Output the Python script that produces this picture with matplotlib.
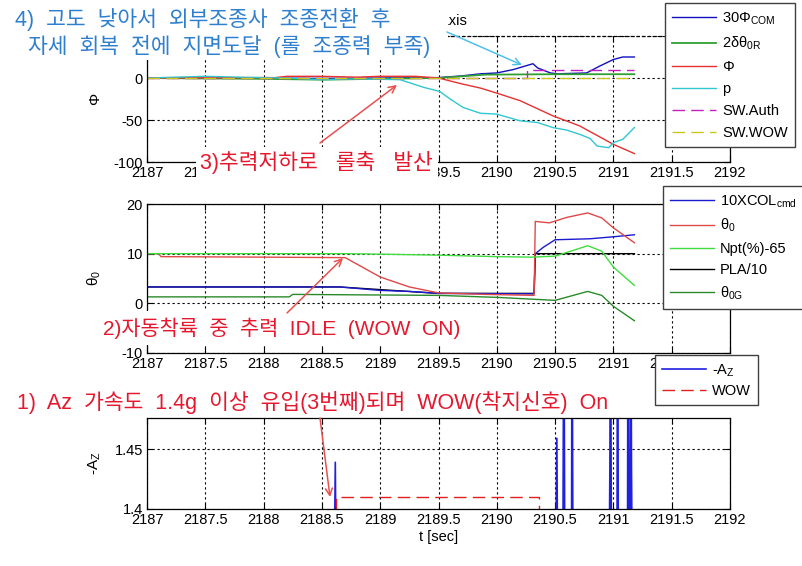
import matplotlib
matplotlib.use('Agg')
import matplotlib.pyplot as plt
from matplotlib.patches import Rectangle, FancyArrowPatch
from matplotlib.ticker import FormatStrFormatter, MultipleLocator

plt.rcParams['font.family'] = ['Liberation Sans', 'Noto Sans CJK KR']
plt.rcParams['mathtext.fontset'] = 'custom'
plt.rcParams['mathtext.rm'] = 'Liberation Sans'
plt.rcParams['mathtext.it'] = 'Liberation Sans'
plt.rcParams['mathtext.bf'] = 'Liberation Sans:bold'
plt.rcParams['axes.unicode_minus'] = False

# ---- 1. 롤축 (top panel) ----
t_phicom = [2187.0, 2187.5, 2188.0, 2188.5, 2189.0, 2189.5, 2189.7, 2189.86, 2190.0, 2190.14,
            2190.31, 2190.35, 2190.46, 2190.52, 2190.77, 2190.88, 2191.0, 2191.08, 2191.18]
phicom = [0, -0.5, 0, -0.5, 0, 0.5, 2.5, 5, 6, 10, 17, 12, 6, 5, 6, 14, 22, 25, 25]

t_dth0r = [2187.0, 2188.0, 2188.5, 2189.0, 2189.5, 2189.9, 2190.5, 2191.18]
dth0r = [0, -1, -2, -1, 0, 4, 4.5, 4.5]

t_phi = [2187.0, 2188.1, 2188.2, 2188.5, 2188.8, 2189.0, 2189.3, 2189.5, 2189.7, 2189.86,
         2190.0, 2190.2, 2190.48, 2190.71, 2191.0, 2191.18]
phi = [0, 0.5, 2, 2, 1, 2, 2, 0, -7, -12, -18, -27, -45, -57, -79, -90]

t_p = [2187.0, 2187.5, 2187.8, 2188.2, 2188.5, 2188.8, 2189.17, 2189.37, 2189.51, 2189.6,
       2189.71, 2189.86, 2190.0, 2190.2, 2190.35, 2190.48, 2190.6, 2190.71, 2190.8, 2190.86,
       2190.96, 2191.0, 2191.08, 2191.18]
p = [0, 2, 1, 0, -2, -1, -2, -11, -16, -25, -35, -42, -43, -51, -53, -59, -62, -67, -72, -81,
     -83, -77, -73, -59]

t_auth = [2187.0, 2190.26, 2190.26, 2191.18]
sw_auth = [0, 0, 10, 10]

t_wow_sw = [2187.0, 2191.18]
sw_wow = [0, 0]

# ---- 2. 콜렉티브 (middle panel) ----
t_xcol = [2187.0, 2188.65, 2189.0, 2189.25, 2189.5, 2190.32, 2190.33, 2190.4, 2190.5, 2190.8,
          2191.0, 2191.18]
xcol = [3.3, 3.3, 2.6, 2.4, 2.0, 1.9, 10.0, 11.3, 12.8, 13.0, 13.4, 13.8]

t_th0 = [2187.0, 2187.1, 2187.12, 2188.0, 2188.7, 2189.0, 2189.25, 2189.5, 2189.9, 2190.32,
         2190.33, 2190.45, 2190.6, 2190.78, 2190.9, 2191.0, 2191.18]
th0 = [10, 10, 9.4, 9.3, 9.2, 5.3, 3.3, 2.1, 1.8, 1.6, 16.5, 16.2, 17.3, 18.2, 17.2, 15.2, 12.2]

t_npt = [2187.0, 2188.7, 2189.0, 2189.5, 2190.0, 2190.3, 2190.5, 2190.78, 2190.9, 2191.0, 2191.18]
npt = [10, 10, 9.9, 9.7, 9.4, 9.3, 9.5, 11.6, 10.5, 7.3, 3.6]

t_pla = [2187.0, 2188.65, 2189.5, 2190.32, 2190.33, 2191.18]
pla = [3.3, 3.3, 2.0, 2.0, 10, 10]

t_th0g = [2187.0, 2188.22, 2188.25, 2189.5, 2190.0, 2190.5, 2190.78, 2190.9, 2191.0, 2191.18]
th0g = [1.3, 1.3, 1.8, 1.6, 1.2, 0.6, 2.4, 1.6, -0.6, -3.5]

# ---- 3. 수직가속도 (bottom panel) ----
az_t = [2187.0, 2188.60, 2188.615, 2188.625, 2188.63, 2190.50, 2190.515, 2190.525, 2190.53,
        2190.565, 2190.575, 2190.585, 2190.64, 2190.645, 2190.655, 2190.96, 2190.97, 2190.975,
        2190.985, 2191.03, 2191.035, 2191.045, 2191.12, 2191.125, 2191.135, 2191.14, 2191.15,
        2191.155, 2191.165, 2191.18]
az_v = [1.3, 1.3, 1.439, 1.3, 1.3, 1.3, 1.459, 1.3, 1.3,
        1.3, 1.6, 1.3, 1.3, 1.6, 1.3, 1.3, 1.437, 1.6,
        1.3, 1.3, 1.6, 1.3, 1.3, 1.6, 1.3, 1.3, 1.6,
        1.437, 1.3, 1.3]

t_wow = [2187.0, 2188.62, 2188.62, 2190.36, 2190.36, 2191.18]
wow = [1.3, 1.3, 1.41, 1.41, 1.3, 1.3]

W, H = 803, 566
fig = plt.figure(figsize=(W / 100, H / 100), dpi=100)


def fr(x, y):
    # 픽셀 좌표 -> figure 비율
    return x / W, 1 - y / H


def make_ax(top, bottom):
    ax = fig.add_axes([147 / W, 1 - bottom / H, (730 - 147) / W, (bottom - top) / H])
    ax.set_xlim(2187, 2192)
    ax.xaxis.set_major_locator(MultipleLocator(0.5))
    ax.xaxis.set_major_formatter(FormatStrFormatter('%g'))
    ax.grid(True, color='black', linestyle=(0, (2, 2.5)), linewidth=0.8)
    ax.tick_params(direction='in', length=4, top=True, right=True, labelsize=10.5, pad=3)
    for s in ax.spines.values():
        s.set_linewidth(0.9)
    ax.yaxis.set_label_coords(-0.075, 0.5)
    return ax


leg_kw = dict(fontsize=10.5, fancybox=False, edgecolor='#404040', framealpha=1,
              handlelength=3.0, borderaxespad=0, handletextpad=0.4, borderpad=0.5)

# top
ax1 = make_ax(36, 162)
h = []
h += ax1.plot(t_phicom, phicom, color='#1010c0', lw=1, label=r'30$\Phi_{COM}$')
h += ax1.plot(t_dth0r, dth0r, color='#30a030', lw=1.3, label=r'2$\delta\theta_{0R}$')
h += ax1.plot(t_phi, phi, color='#e83030', lw=1, label=r'$\Phi$')
h += ax1.plot(t_p, p, color='#30c8d0', lw=1, label='p')
h += ax1.plot(t_auth, sw_auth, color='#c020c0', lw=1, dashes=(9, 4.5), label='SW.Auth')
h += ax1.plot(t_wow_sw, sw_wow, color='#c8c820', lw=1, dashes=(9, 4.5), label='SW.WOW')
ax1.set_ylim(-100, 50)
ax1.set_yticks([-100, -50, 0, 50])
ax1.set_yticklabels(['-100', '-50', '0', ''])
ax1.set_ylabel(r'$\Phi$', fontsize=11)
ax1.spines['top'].set_linestyle((0, (2, 2.5)))
ax1.set_title('Roll axis', fontsize=10.5, pad=8)
fig.legend(handles=h, loc='upper left', bbox_to_anchor=fr(665, 3), labelspacing=0.55, **leg_kw)

# middle
ax2 = make_ax(204, 353)
h = []
h += ax2.plot(t_pla, pla, color='black', lw=1, label='PLA/10')
h += ax2.plot(t_xcol, xcol, color='#1a1ad0', lw=1, label=r'10XCOL$_{cmd}$')
h += ax2.plot(t_th0, th0, color='#e04848', lw=1, label=r'$\theta_0$')
h += ax2.plot(t_npt, npt, color='#40dd40', lw=1, label='Npt(%)-65')
h += ax2.plot(t_th0g, th0g, color='#2a8a2a', lw=1, label=r'$\theta_{0G}$')
ax2.set_ylim(-10, 20)
ax2.set_yticks([-10, 0, 10, 20])
ax2.set_ylabel(r'$\theta_0$', fontsize=11)
order = [1, 2, 3, 0, 4]
fig.legend(handles=[h[i] for i in order], loc='upper left', bbox_to_anchor=fr(663, 186),
           labelspacing=0.5, **leg_kw)

# bottom
ax3 = make_ax(418, 509)
h = []
h += ax3.plot(az_t, az_v, color='#2020e0', lw=1.2, label=r'-A$_Z$')
h += ax3.plot(t_wow, wow, color='#e02020', lw=1, dashes=(9, 4.5), label='WOW')
ax3.set_ylim(1.4, 1.476)
ax3.set_yticks([1.4, 1.45])
ax3.yaxis.set_major_formatter(FormatStrFormatter('%g'))
ax3.set_ylabel(r'-A$_Z$', fontsize=11)
ax3.set_xlabel('t [sec]', fontsize=10.5, labelpad=2)
fig.legend(handles=h, loc='upper left', bbox_to_anchor=fr(655, 355), labelspacing=0.35, **leg_kw)

# 주석 (흰 배경 텍스트 상자)
red = '#e5182e'
blue = '#2f7fcf'
fig.add_artist(Rectangle(fr(8, 60), 440 / W, 56 / H, transform=fig.transFigure,
                         facecolor='white', edgecolor='none', zorder=5))
fig.add_artist(Rectangle(fr(196, 179), 242 / W, 32 / H, transform=fig.transFigure,
                         facecolor='white', edgecolor='none', zorder=5))
fig.add_artist(Rectangle(fr(100, 345), 364 / W, 34 / H, transform=fig.transFigure,
                         facecolor='white', edgecolor='none', zorder=5))

tk = dict(va='center', ha='left', zorder=6)
fig.text(*fr(15, 19), '4)  고도  낮아서  외부조종사  조종전환  후', color=blue, fontsize=15.5, **tk)
fig.text(*fr(28, 46), '자세  회복  전에  지면도달  (롤  조종력  부족)', color=blue, fontsize=15.5, **tk)
fig.text(*fr(200, 162), '3)추력저하로   롤축   발산', color=red, fontsize=15.5, **tk)
fig.text(*fr(103, 328), '2)자동착륙  중  추력  IDLE  (WOW  ON)', color=red, fontsize=15, **tk)
fig.text(*fr(17, 402), '1)  Az  가속도  1.4g  이상  유입(3번째)되며  WOW(착지신호)  On', color=red,
         fontsize=15.5, **tk)

arrows = [((447, 32), (522, 65), '#50c0e8'),
          ((320, 143), (397, 85), '#e85050'),
          ((287, 313), (343, 258), '#e85050'),
          ((320, 418), (330, 497), '#e85050')]
for start, end, c in arrows:
    fig.add_artist(FancyArrowPatch(
        fr(*start), fr(*end), transform=fig.transFigure, arrowstyle='->,head_length=5,head_width=2.5',
        color=c, lw=1.1, shrinkA=0, shrinkB=0, zorder=7))

fig.savefig('out.png', dpi=100)
